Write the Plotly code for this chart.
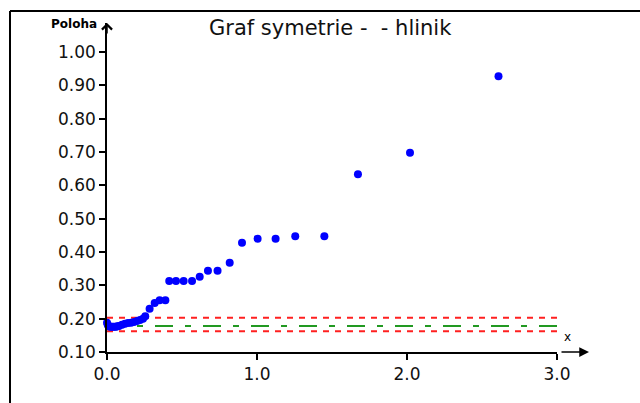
import plotly.graph_objects as go

# ---- data ----
x_vals = [0.0, 0.005, 0.01, 0.02, 0.03, 0.04, 0.05, 0.06, 0.07, 0.08, 0.10, 0.12, 0.14, 0.16, 0.18, 0.20, 0.22, 0.24,
          0.255, 0.284, 0.318, 0.351, 0.389, 0.415, 0.46, 0.511, 0.567, 0.618, 0.673, 0.737, 0.818, 0.90,
          1.004, 1.124, 1.255, 1.449, 1.673, 2.02, 2.61]
y_vals = [0.188, 0.182, 0.178, 0.176, 0.176, 0.176, 0.176, 0.176, 0.177, 0.178, 0.182, 0.185, 0.187, 0.188, 0.190, 0.193, 0.196, 0.200,
          0.207, 0.230, 0.247, 0.255, 0.255, 0.313, 0.313, 0.313, 0.313, 0.326, 0.344, 0.344, 0.368, 0.428,
          0.440, 0.440, 0.447, 0.447, 0.633, 0.698, 0.927]
line_x = [0.0, 3.0]
upper_limit = [0.203, 0.203]
lower_limit = [0.162, 0.162]
mean_line = [0.178, 0.178]
x_ticks = [0, 1, 2, 3]
y_ticks = [0.1, 0.2, 0.3, 0.4, 0.5, 0.6, 0.7, 0.8, 0.9, 1.0]

W, H = 640, 403
L, R, T, B = 107, 83, 23, 51
PW, PH = W - L - R, H - T - B

def px(x):
    return (x - L) / PW

def py(y):
    return (H - B - y) / PH

FONT = "DejaVu Sans"

fig = go.Figure()
fig.add_trace(go.Scatter(x=line_x, y=upper_limit, mode="lines",
                         line=dict(color="#ff2020", width=2, dash="6px,6px"), hoverinfo="skip"))
fig.add_trace(go.Scatter(x=line_x, y=lower_limit, mode="lines",
                         line=dict(color="#ff2020", width=2, dash="6px,6px"), hoverinfo="skip"))
fig.add_trace(go.Scatter(x=line_x, y=mean_line, mode="lines",
                         line=dict(color="#229922", width=2, dash="18px,12px,6px,12px"), hoverinfo="skip"))
fig.add_trace(go.Scatter(x=x_vals, y=y_vals, mode="markers", cliponaxis=False,
                         marker=dict(color="#0000ff", size=8, line=dict(width=0))))

shapes = [
    # frame
    dict(type="line", xref="paper", yref="paper", x0=px(10), x1=px(640), y0=py(11), y1=py(11),
         line=dict(color="black", width=2)),
    dict(type="line", xref="paper", yref="paper", x0=px(10), x1=px(10), y0=py(11), y1=py(403),
         line=dict(color="black", width=2)),
    # axis crossing extensions
    dict(type="line", xref="paper", yref="paper", x0=0, x1=0, y0=0, y1=py(357),
         line=dict(color="black", width=1.5)),
    dict(type="line", xref="paper", yref="paper", x0=px(101), x1=0, y0=0, y1=0,
         line=dict(color="black", width=1.5)),
]

annotations = [
    dict(text="Graf symetrie - \u00a0- hlinik", xref="paper", yref="paper", x=px(330), y=py(28),
         xanchor="center", yanchor="middle",
         showarrow=False, font=dict(family=FONT, size=21, color="#111")),
    dict(text="<b>Poloha</b>", xref="paper", yref="paper", x=px(74), y=py(24),
         xanchor="center", yanchor="middle",
         showarrow=False, font=dict(family=FONT, size=12, color="black")),
    dict(text="x", xref="paper", yref="paper", x=px(567), y=py(337),
         xanchor="center", yanchor="middle",
         showarrow=False, font=dict(family=FONT, size=12, color="black")),
    # y arrow head
    dict(text="", xref="paper", yref="paper", x=0, y=1, ax=0, ay=12, axref="pixel", ayref="pixel",
         showarrow=True, arrowhead=4, arrowsize=1.3, arrowwidth=1.5, arrowcolor="black"),
    # x arrow
    dict(text="", xref="paper", yref="paper", x=px(589), y=0, ax=-29, ay=0,
         showarrow=True, arrowhead=2, arrowsize=1.3, arrowwidth=1.5, arrowcolor="black"),
]

fig.update_layout(
    width=W, height=H, margin=dict(l=L, r=R, t=T, b=B),
    paper_bgcolor="white", plot_bgcolor="white", showlegend=False,
    shapes=shapes, annotations=annotations,
    xaxis=dict(range=[0, 3], tickvals=x_ticks, tickformat=".1f", showgrid=False, zeroline=False,
               showline=True, linecolor="black", linewidth=1.5, ticks="outside", ticklen=6,
               tickwidth=1.5, tickcolor="black", tickfont=dict(family=FONT, size=17, color="#111")),
    yaxis=dict(range=[0.1, 1.087], tickvals=y_ticks, tickformat=".2f", showgrid=False, zeroline=False,
               showline=True, linecolor="black", linewidth=1.5, ticks="outside", ticklen=6,
               tickwidth=1.5, tickcolor="black", tickfont=dict(family=FONT, size=17, color="#111")),
)

fig.write_html("out.html")
